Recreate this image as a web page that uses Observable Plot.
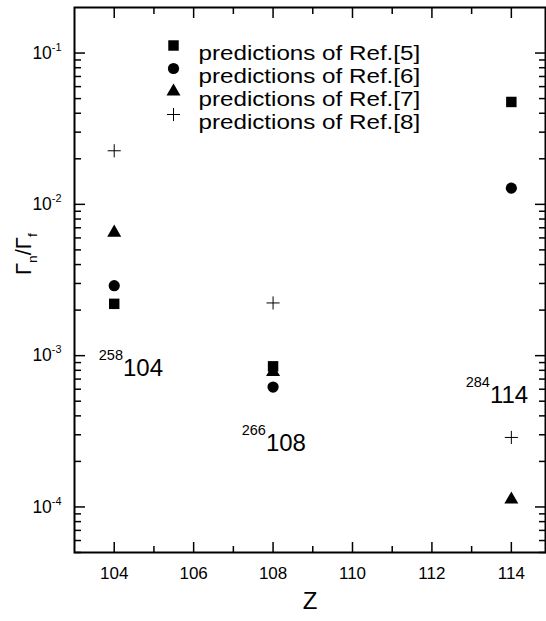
<!DOCTYPE html>
<html>
<head>
<meta charset="utf-8">
<script src="https://cdn.jsdelivr.net/npm/d3@7"></script>
<script src="https://cdn.jsdelivr.net/npm/@observablehq/plot@0.6"></script>
<style>
  body { margin: 0; background: #fff; }
  #chart svg { display: block; }
</style>
</head>
<body>
<div id="chart"></div>
<script>
// ---- data ----
const Z = [104, 108, 114];
const ref5 = [2.2e-3, 8.5e-4, 4.75e-2];
const ref6 = [2.9e-3, 6.2e-4, 1.28e-2];
const ref7 = [6.5e-3, 7.8e-4, 1.12e-4];
const ref8 = [2.26e-2, 2.23e-3, 2.88e-4];
const refNames = ["predictions of Ref.[5]", "predictions of Ref.[6]", "predictions of Ref.[7]", "predictions of Ref.[8]"];

// isotope annotations
const isotopeMass = ["258", "266", "284"];
const isotopeZ = ["104", "108", "114"];
const isotopeAtZ = [104.22, 107.82, 113.46];
const isotopeAtRatio = [8.3e-4, 2.62e-4, 5.5e-4];

// ticks
const xMajor = [104, 106, 108, 110, 112, 114];
const xMinor = [105, 107, 109, 111, 113];
const yMajor = [1e-4, 1e-3, 1e-2, 1e-1];
const yMinorMult = [2, 3, 4, 5, 6, 7, 8, 9];
const yDecades = [1e-5, 1e-4, 1e-3, 1e-2, 1e-1];
const yMinor = yDecades.flatMap(d => yMinorMult.map(m => m * d)).filter(v => v >= 5e-5 && v < 0.2);

// ---- styles ----
const series = [ref5, ref6, ref7, ref8];
const styles = [
  {symbol: "square", r: 5.9, fill: "black", stroke: "none"},
  {symbol: "circle", r: 5.6, fill: "black", stroke: "none"},
  {symbol: "triangle", r: 5.2, fill: "black", stroke: "none"},
  {symbol: "plus", r: 4.3, fill: "none", stroke: "black", strokeWidth: 1}
];

const dataMarks = series.map((vals, i) =>
  Plot.dot(Z.map((z, j) => ({Z: z, ratio: vals[j]})), {x: "Z", y: "ratio", ...styles[i]})
);

const legendMarks = refNames.flatMap((name, i) => [
  Plot.dot([name], {frameAnchor: "top-left", dx: 99, dy: 38 + i * 23, ...styles[i]}),
  Plot.text([name], {frameAnchor: "top-left", dx: 124, dy: 38 + i * 23, text: d => d,
    textAnchor: "start", fontSize: 20.5, fill: "black"})
]);

const blank = () => "";

const chart = Plot.plot({
  width: 546,
  height: 621,
  marginLeft: 74,
  marginRight: 1,
  marginTop: 7,
  marginBottom: 69,
  style: {fontFamily: "'Liberation Sans', Arial, Helvetica, sans-serif", background: "white", color: "black"},
  x: {domain: [103, 114.86], label: null},
  y: {type: "log", domain: [5e-5, 0.2], label: null},
  marks: [
    // bottom axis
    Plot.axisX(xMajor, {anchor: "bottom", tickSize: -10, tickFormat: blank, label: null, strokeWidth: 1.5}),
    Plot.axisX(xMinor, {anchor: "bottom", tickSize: -6, tickFormat: blank, label: null, strokeWidth: 1.5}),
    Plot.axisX(xMajor, {anchor: "bottom", tickSize: 0, tickPadding: 14, fontSize: 17, label: null, tickFormat: d => String(d)}),
    // top axis
    Plot.axisX(xMajor, {anchor: "top", tickSize: -10, tickFormat: blank, label: null, strokeWidth: 1.5}),
    Plot.axisX(xMinor, {anchor: "top", tickSize: -6, tickFormat: blank, label: null, strokeWidth: 1.5}),
    // left axis
    Plot.axisY(yMajor, {anchor: "left", tickSize: -11, tickFormat: blank, label: null, strokeWidth: 1.5}),
    Plot.axisY(yMinor, {anchor: "left", tickSize: -7, tickFormat: blank, label: null, strokeWidth: 1.5}),
    Plot.axisY(yMajor, {anchor: "left", tickSize: 0, tickPadding: 13, fontSize: 17.5, label: null,
      tickFormat: d => `10^{${Math.round(Math.log10(d))}}`}),
    // right axis
    Plot.axisY(yMajor, {anchor: "right", tickSize: -11, tickFormat: blank, label: null, strokeWidth: 1.5}),
    Plot.axisY(yMinor, {anchor: "right", tickSize: -7, tickFormat: blank, label: null, strokeWidth: 1.5}),
    Plot.frame({stroke: "black", strokeWidth: 2}),
    // axis titles
    Plot.text(["Z"], {frameAnchor: "bottom", dy: 56, fontSize: 24, fill: "black"}),
    Plot.text(["Γ_{n}/Γ_{f}"], {frameAnchor: "left", dx: -51, dy: -5, rotate: -90, fontSize: 22, fill: "black"}),
    // data
    ...dataMarks,
    // isotope labels
    Plot.text(isotopeMass, {x: isotopeAtZ, y: isotopeAtRatio, text: d => d, textAnchor: "end", fontSize: 14.5, dy: -13, fill: "black"}),
    Plot.text(isotopeZ, {x: isotopeAtZ, y: isotopeAtRatio, text: d => d, textAnchor: "start", fontSize: 24, fill: "black"}),
    // legend
    ...legendMarks
  ]
});

document.getElementById("chart").append(chart);

// turn ^{..} / _{..} markup into real superscript / subscript tspans
function richify(svg) {
  const NS = "http://www.w3.org/2000/svg";
  svg.querySelectorAll("text").forEach(t => {
    const s = t.textContent;
    if (!/[\^_]\{/.test(s)) return;
    const fs = parseFloat(getComputedStyle(t).fontSize) || 16;
    t.textContent = "";
    const re = /([\^_])\{([^}]*)\}|([^\^_]+)/g;
    let m, shift = 0;
    while ((m = re.exec(s))) {
      const ts = document.createElementNS(NS, "tspan");
      let target = 0, size = fs;
      if (m[1]) {
        size = fs * 0.62;
        target = m[1] === "^" ? -fs * 0.45 : fs * 0.3;
        ts.textContent = m[2];
      } else {
        ts.textContent = m[3];
      }
      ts.setAttribute("font-size", size);
      ts.setAttribute("dy", target - shift);
      shift = target;
      t.appendChild(ts);
    }
  });
}
richify(chart);

// the legend lettering of the reference is set wide: stretch it horizontally
chart.querySelectorAll("text").forEach(t => {
  if (refNames.includes(t.textContent)) {
    const tr = t.getAttribute("transform") || "";
    t.setAttribute("transform", tr + " scale(1.18,1)");
  }
});
</script>
</body>
</html>
